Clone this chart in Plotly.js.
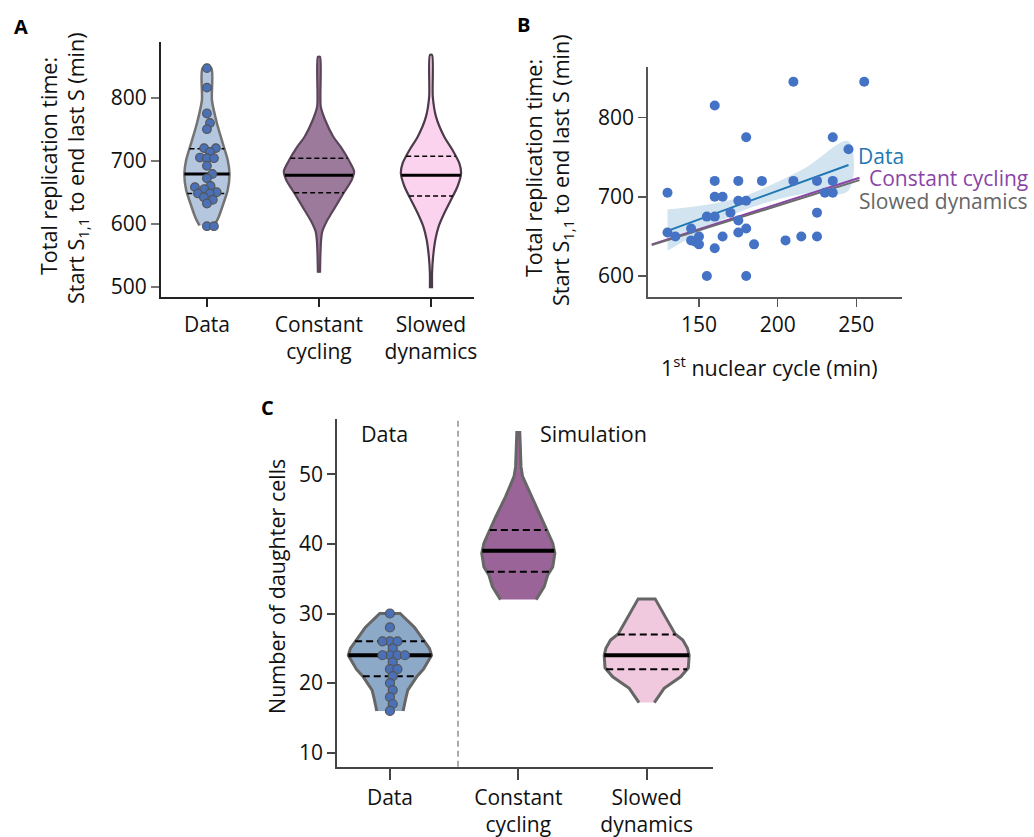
<!DOCTYPE html>
<html><head><meta charset="utf-8">
<script src="https://cdn.plot.ly/plotly-3.0.1.min.js"></script>
<style>html,body{margin:0;padding:0;background:#fff}#chart{width:1034px;height:837px}</style>
</head><body><div id="chart"></div>
<script>
// ---------------- Panel A data ----------------
const A_categories = ['Data', 'Constant<br>cycling', 'Slowed<br>dynamics'];
const A_ticks = [500, 600, 700, 800];
const A_data_points = [847, 816, 775, 760, 750, 720, 720, 714, 705, 704, 704, 692, 679, 672, 660, 658, 655, 650, 648, 648, 642, 638, 632, 596, 596];
const A_data_profile_y = [597, 611, 632, 653.5, 679, 701, 728, 759, 796, 847];
const A_data_density = [0.21, 0.33, 0.46, 0.58, 0.63, 0.58, 0.44, 0.28, 0.14, 0.12];
const A_const_profile_y = [522, 550, 574, 587, 603, 627, 648, 669, 683, 701, 720, 738, 765, 786, 865];
const A_const_density = [0.03, 0.04, 0.06, 0.09, 0.21, 0.46, 0.68, 0.91, 0.98, 0.83, 0.63, 0.40, 0.17, 0.05, 0.03];
const A_slow_profile_y = [497.5, 521, 548, 574, 595, 616.5, 638, 659, 680, 696, 717, 738, 770, 802, 868];
const A_slow_density = [0.03, 0.03, 0.06, 0.12, 0.21, 0.37, 0.56, 0.74, 0.84, 0.79, 0.60, 0.37, 0.14, 0.05, 0.03];
const A_quartiles = [[648, 679, 719], [649, 677, 704], [644, 677, 707]];

// ---------------- Panel B data ----------------
const B_cycle = [210, 255, 160, 180, 235, 245, 130, 160, 175, 190, 210, 225, 235, 160, 165, 175, 180, 230, 235, 170, 155, 160, 175, 225, 130, 135, 145, 145, 148, 150, 150, 165, 175, 180, 160, 185, 205, 215, 225, 155, 180];
const B_total = [845, 845, 815, 775, 775, 760, 705, 720, 720, 720, 720, 720, 720, 700, 700, 695, 695, 705, 705, 680, 675, 675, 670, 680, 655, 650, 660, 645, 643, 650, 640, 650, 655, 660, 635, 640, 645, 650, 650, 600, 600];
const B_xticks = [150, 200, 250];
const B_yticks = [600, 700, 800];
const B_fit_x = [130, 245];
const B_fit_data = [657, 740];
const B_band_x = [130, 155, 176, 197, 218, 245];
const B_band_upper = [684, 690, 699, 716, 737, 770];
const B_band_lower = [632, 660, 681, 695, 704, 708];
const B_sim_x = [120, 252];
const B_fit_constant = [640, 724];
const B_fit_slowed = [639, 721];
const B_labels = ['Data', 'Constant cycling', 'Slowed dynamics'];

// ---------------- Panel C data ----------------
const C_categories = ['Data', 'Constant<br>cycling', 'Slowed<br>dynamics'];
const C_groups = ['Data', 'Simulation'];
const C_ticks = [10, 20, 30, 40, 50];
const C_data_points = [30, 28, 26, 26, 26, 25, 24, 24, 24, 24, 23, 22, 22, 21, 20, 19, 18, 17, 16];
const C_data_profile_y = [16, 17, 18, 19, 20, 21, 22, 23, 24, 25, 26, 28, 30];
const C_data_density = [0.31, 0.34, 0.38, 0.42, 0.54, 0.64, 0.79, 0.89, 0.98, 0.93, 0.82, 0.58, 0.24];
const C_const_profile_y = [32, 33.85, 35.5, 36.7, 38.65, 40.1, 42, 43.9, 46.8, 49.7, 51.1, 56];
const C_const_density = [0.42, 0.61, 0.69, 0.81, 0.86, 0.81, 0.67, 0.53, 0.30, 0.10, 0.064, 0.035];
const C_slow_profile_y = [17.2, 19.25, 20.9, 22.2, 24, 25, 26.2, 27.05, 29.3, 32.1];
const C_slow_density = [0.18, 0.41, 0.80, 0.98, 1.0, 0.96, 0.85, 0.67, 0.46, 0.20];
const C_quartiles = [[21, 24, 26], [36, 39, 42], [22, 24, 27]];

// ---------------- helpers ----------------
const FONT = 'Open Sans, Noto Sans, sans-serif';
const W = 1034, H = 837;
function px(x) { return x / W; }
function py(y) { return 1 - y / H; }

function interp(ys, ds, q) {
  if (q <= ys[0]) return ds[0];
  for (let i = 1; i < ys.length; i++) {
    if (q <= ys[i]) { const t = (q - ys[i-1]) / (ys[i] - ys[i-1]); return ds[i-1] + t * (ds[i] - ds[i-1]); }
  }
  return ds[ds.length - 1];
}

function violin(center, ys, ds, halfmax, fill, lc, lw, xa, ya, smooth) {
  const xr = ys.map((y, i) => center + ds[i] * halfmax);
  const xl = ys.map((y, i) => center - ds[i] * halfmax).reverse();
  return {type: 'scatter', mode: 'lines', x: xr.concat(xl), y: ys.concat(ys.slice().reverse()),
    fill: 'toself', fillcolor: fill, line: {color: lc, width: lw, shape: smooth ? 'spline' : 'linear', smoothing: 0.7},
    xaxis: xa, yaxis: ya, hoverinfo: 'skip', showlegend: false};
}

function quartLines(center, ys, ds, halfmax, qs, xa, ya, medW, qW, dash) {
  return qs.map((q, j) => {
    const hw = interp(ys, ds, q) * halfmax;
    return {type: 'scatter', mode: 'lines', x: [center - hw, center + hw], y: [q, q],
      line: {color: '#000', width: j === 1 ? medW : qW, dash: j === 1 ? 'solid' : dash},
      xaxis: xa, yaxis: ya, hoverinfo: 'skip', showlegend: false};
  });
}

// simple beeswarm in pixel space
function swarm(values, center, pxPerX, pxPerY, diam) {
  const order = values.map((v, i) => i).sort((a, b) => values[a] - values[b]);
  const placed = [];
  const xs = new Array(values.length);
  for (const i of order) {
    const yp = values[i] * pxPerY;
    const cands = [0];
    for (const p of placed) {
      const dy = yp - p.yp;
      if (Math.abs(dy) < diam) { const dx = Math.sqrt(diam * diam - dy * dy); cands.push(p.xp + dx, p.xp - dx); }
    }
    cands.sort((a, b) => Math.abs(a) - Math.abs(b));
    let best = 0;
    for (const c of cands) {
      if (placed.every(p => (p.xp - c) ** 2 + (p.yp - yp) ** 2 >= diam * diam - 1e-6)) { best = c; break; }
    }
    placed.push({xp: best, yp: yp});
    xs[i] = center + best / pxPerX;
  }
  return xs;
}

const traces = [];
// ---------------- Panel A traces ----------------
const A_half = 0.32;
const A_profiles = [
  [A_data_profile_y, A_data_density, '#b4c7df', '#737373', 2.5],
  [A_const_profile_y, A_const_density, '#9c7a9b', '#5a4559', 2.2],
  [A_slow_profile_y, A_slow_density, '#fcd3ef', '#4b3b49', 2.2]
];
A_profiles.forEach((p, k) => {
  traces.push(violin(k, p[0], p[1], A_half, p[2], p[3], p[4], 'x', 'y', true));
  quartLines(k, p[0], p[1], A_half, A_quartiles[k], 'x', 'y', 3, 1.5, '5px,3px').forEach(t => traces.push(t));
});
traces.push({type: 'scatter', mode: 'markers', x: swarm(A_data_points, 0, 112, 0.63, 7), y: A_data_points,
  marker: {size: 8.6, color: '#4a70b8', line: {color: '#555', width: 1.2}}, xaxis: 'x', yaxis: 'y', hoverinfo: 'skip', showlegend: false});

// ---------------- Panel B traces ----------------
traces.push({type: 'scatter', mode: 'lines', x: B_band_x.concat(B_band_x.slice().reverse()),
  y: B_band_upper.concat(B_band_lower.slice().reverse()), fill: 'toself', fillcolor: 'rgba(31,119,180,0.2)',
  line: {width: 0, shape: 'spline'}, xaxis: 'x2', yaxis: 'y2', hoverinfo: 'skip', showlegend: false});
traces.push({type: 'scatter', mode: 'lines', x: B_sim_x, y: B_fit_constant, line: {color: '#8a44a8', width: 2},
  xaxis: 'x2', yaxis: 'y2', hoverinfo: 'skip', showlegend: false});
traces.push({type: 'scatter', mode: 'lines', x: B_sim_x, y: B_fit_slowed, line: {color: '#6b6b6b', width: 2},
  xaxis: 'x2', yaxis: 'y2', hoverinfo: 'skip', showlegend: false});
traces.push({type: 'scatter', mode: 'lines', x: B_fit_x, y: B_fit_data, line: {color: '#1f77b4', width: 2},
  xaxis: 'x2', yaxis: 'y2', hoverinfo: 'skip', showlegend: false});
traces.push({type: 'scatter', mode: 'markers', x: B_cycle, y: B_total, marker: {size: 10, color: '#4472c4'},
  xaxis: 'x2', yaxis: 'y2', hoverinfo: 'skip', showlegend: false});

// ---------------- Panel C traces ----------------
const C_half = 0.331;
const C_profiles = [
  [C_data_profile_y, C_data_density, '#8ca9c8'],
  [C_const_profile_y, C_const_density, '#9b6499'],
  [C_slow_profile_y, C_slow_density, '#f1c9df']
];
C_profiles.forEach((p, k) => {
  traces.push(violin(k, p[0], p[1], C_half, p[2], '#666666', 3, 'x3', 'y3', false));
  quartLines(k, p[0], p[1], C_half, C_quartiles[k], 'x3', 'y3', 4, 2, '7px,4px').forEach(t => traces.push(t));
});
traces.push({type: 'scatter', mode: 'markers', x: swarm(C_data_points, 0, 128.35, 6.96, 7.5), y: C_data_points,
  marker: {size: 9, color: '#4a70b8', line: {color: '#555', width: 1.2}}, xaxis: 'x3', yaxis: 'y3', hoverinfo: 'skip', showlegend: false});

// ---------------- layout ----------------
const tickFont = {family: FONT, size: 21, color: '#111'};
function axisBase(extra) {
  return Object.assign({showgrid: false, zeroline: false, showline: true, ticks: 'outside', ticklen: 8,
    tickfont: tickFont, fixedrange: true}, extra);
}

const annotations = [];
const TITLE_SIZE = 21.5;
function ann(text, x, y, opts) {
  annotations.push(Object.assign({text: text, x: px(x), y: py(y), xref: 'paper', yref: 'paper', showarrow: false,
    xanchor: 'center', yanchor: 'middle', font: {family: FONT, size: TITLE_SIZE, color: '#111'}}, opts || {}));
}
// panel letters
ann('<b>A</b>', 21, 27, {font: {family: FONT, size: 20, color: '#000'}});
ann('<b>B</b>', 523, 25, {font: {family: FONT, size: 20, color: '#000'}});
ann('<b>C</b>', 267, 408, {font: {family: FONT, size: 20, color: '#000'}});
// panel A y title
ann('Total replication time:', 48, 166, {textangle: -90});
ann('Start S<sub>1,1</sub> to end last S (min)', 77, 168, {textangle: -90});
// panel B y title
ann('Total replication time:', 533, 168, {textangle: -90});
ann('Start S<sub>1,1</sub> to end last S (min)', 562, 170, {textangle: -90});
// panel B x title
ann('1<sup>st</sup> nuclear cycle (min)', 769, 366);
// panel C y title
ann('Number of daughter cells', 276, 587, {textangle: -90});
// panel C group labels
ann(C_groups[0], 384.5, 433);
ann(C_groups[1], 593, 433);
// panel B line labels (anchored to line ends)
const B_label_colors = ['#1f77b4', '#8a44a8', '#666666'];
const B_label_anchor = [[B_fit_x[1], B_fit_data[1], 8, 9], [B_sim_x[1], B_fit_constant[1], 7, 0], [B_sim_x[1], B_fit_slowed[1], -3, -21]];
B_labels.forEach((t, i) => {
  annotations.push({text: t, x: B_label_anchor[i][0], y: B_label_anchor[i][1], xref: 'x2', yref: 'y2', showarrow: false,
    xanchor: 'left', yanchor: 'middle', xshift: B_label_anchor[i][2], yshift: B_label_anchor[i][3],
    font: {family: FONT, size: 21, color: B_label_colors[i]}});
});

const layout = {
  width: W, height: H, margin: {l: 0, r: 0, t: 0, b: 0}, paper_bgcolor: '#fff', plot_bgcolor: 'rgba(0,0,0,0)',
  showlegend: false, font: {family: FONT, color: '#111'},
  xaxis: axisBase({domain: [px(161), px(474)], range: [-0.41, 2.384], tickvals: [0, 1, 2], ticktext: A_categories,
    anchor: 'y', linecolor: '#222', linewidth: 2, tickcolor: '#222', tickwidth: 2}),
  yaxis: axisBase({domain: [py(296.7), py(41.7)], range: [484, 889], tickvals: A_ticks, anchor: 'x',
    linecolor: '#222', linewidth: 2, tickcolor: '#777', tickwidth: 2}),
  xaxis2: axisBase({domain: [px(648.3), px(902)], range: [117.8, 279], tickvals: B_xticks, anchor: 'y2',
    linecolor: '#555', linewidth: 2, tickcolor: '#555', tickwidth: 1.5}),
  yaxis2: axisBase({domain: [py(296.7), py(66.7)], range: [574, 864], tickvals: B_yticks, anchor: 'x2',
    linecolor: '#555', linewidth: 2, tickcolor: '#555', tickwidth: 1.5}),
  xaxis3: axisBase({domain: [px(337.3), px(713.3)], range: [-0.41, 2.519], tickvals: [0, 1, 2], ticktext: C_categories,
    anchor: 'y3', linecolor: '#444', linewidth: 2, tickcolor: '#444', tickwidth: 2, ticklen: 11}),
  yaxis3: axisBase({domain: [py(766.7), py(419.3)], range: [7.99, 57.9], tickvals: C_ticks, anchor: 'x3',
    linecolor: '#444', linewidth: 2, tickcolor: '#444', tickwidth: 2}),
  shapes: [{type: 'line', xref: 'x3', yref: 'y3 domain', x0: 0.53, x1: 0.53, y0: 0, y1: 1,
    line: {color: '#aaaaaa', width: 2, dash: '6px,4px'}}],
  annotations: annotations
};

Plotly.newPlot('chart', traces, layout, {displayModeBar: false, staticPlot: true});
</script>
</body></html>
